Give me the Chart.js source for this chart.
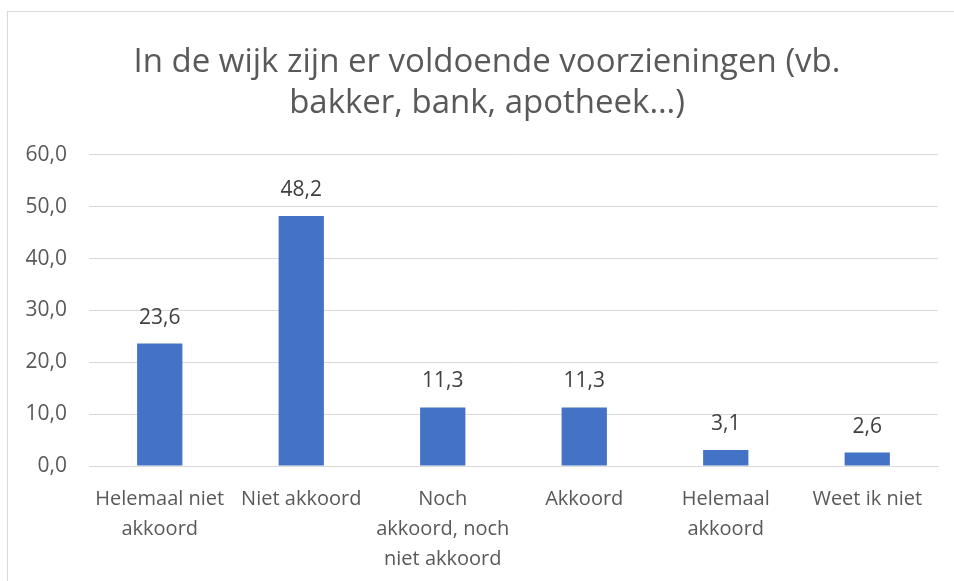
<!DOCTYPE html>
<html>
<head>
<meta charset="utf-8">
<script src="https://cdn.jsdelivr.net/npm/chart.js@4"></script>
<style>
  html, body { margin: 0; padding: 0; background: #fff; overflow: hidden; }
  #frame {
    position: absolute; left: 7px; top: 11px;
    width: 960px; height: 580px;
    border-left: 1px solid #d9d9d9; border-top: 1px solid #d9d9d9;
  }
  #wrap { position: absolute; left: 0; top: 0; width: 958px; height: 569px; }
</style>
</head>
<body>
<div id="frame"><div id="wrap"><canvas id="chart"></canvas></div></div>
<script>
const titleLines = ["In de wijk zijn er voldoende voorzieningen (vb.", "bakker, bank, apotheek…)"];
const categories = [
  ["Helemaal niet", "akkoord"],
  "Niet akkoord",
  ["Noch", "akkoord, noch", "niet akkoord"],
  "Akkoord",
  ["Helemaal", "akkoord"],
  "Weet ik niet"
];
const values = [23.6, 48.2, 11.3, 11.3, 3.1, 2.6];
const yTicks = [0, 10, 20, 30, 40, 50, 60];

const textColor = "#595959";
const labelColor = "#404040";
const gridColor = "#d9d9d9";
const fontFamily = "'Open Sans', 'Noto Sans', sans-serif";

function fmt(v) {
  return v.toFixed(1).replace(".", ",");
}

// draws the value above each bar
const valueLabels = {
  id: "valueLabels",
  afterDatasetsDraw(chart) {
    const ctx = chart.ctx;
    const meta = chart.getDatasetMeta(0);
    ctx.save();
    ctx.font = "21px " + fontFamily;
    ctx.fillStyle = labelColor;
    ctx.textAlign = "center";
    ctx.textBaseline = "middle";
    meta.data.forEach((bar, i) => {
      ctx.fillText(fmt(values[i]), bar.x, bar.y - 26);
    });
    ctx.restore();
  }
};

// title centred over the whole canvas, not only the padded box
const centerTitle = {
  id: "centerTitle",
  afterLayout(chart) {
    chart.titleBlock.left = 0;
    chart.titleBlock.right = chart.width;
  }
};

new Chart(document.getElementById("chart"), {
  type: "bar",
  data: {
    labels: categories,
    datasets: [{
      data: values,
      backgroundColor: "#4472c4",
      barPercentage: 0.32,
      categoryPercentage: 1
    }]
  },
  options: {
    responsive: true,
    maintainAspectRatio: false,
    animation: false,
    layout: { padding: { left: 0, right: 28, top: 0, bottom: 0 } },
    plugins: {
      legend: { display: false },
      tooltip: { enabled: false },
      title: {
        display: true,
        text: titleLines,
        color: textColor,
        font: { family: fontFamily, size: 33, weight: "normal", lineHeight: 1.24 },
        padding: { top: 30, bottom: 31 }
      }
    },
    scales: {
      x: {
        grid: { display: false },
        border: { display: true, color: gridColor },
        ticks: {
          color: textColor,
          font: { family: fontFamily, size: 20, lineHeight: 1.5 },
          maxRotation: 0,
          autoSkip: false,
          padding: 10
        },
        afterFit(scale) { scale.height = 115; }
      },
      y: {
        min: 0,
        max: 60,
        afterBuildTicks(scale) { scale.ticks = yTicks.map(v => ({ value: v })); },
        grid: { color: gridColor, drawTicks: false },
        border: { display: false },
        ticks: {
          color: textColor,
          font: { family: fontFamily, size: 21 },
          padding: 22,
          callback: v => fmt(v)
        },
        afterFit(scale) { scale.width = 81; }
      }
    }
  },
  plugins: [valueLabels, centerTitle]
});
</script>
</body>
</html>
